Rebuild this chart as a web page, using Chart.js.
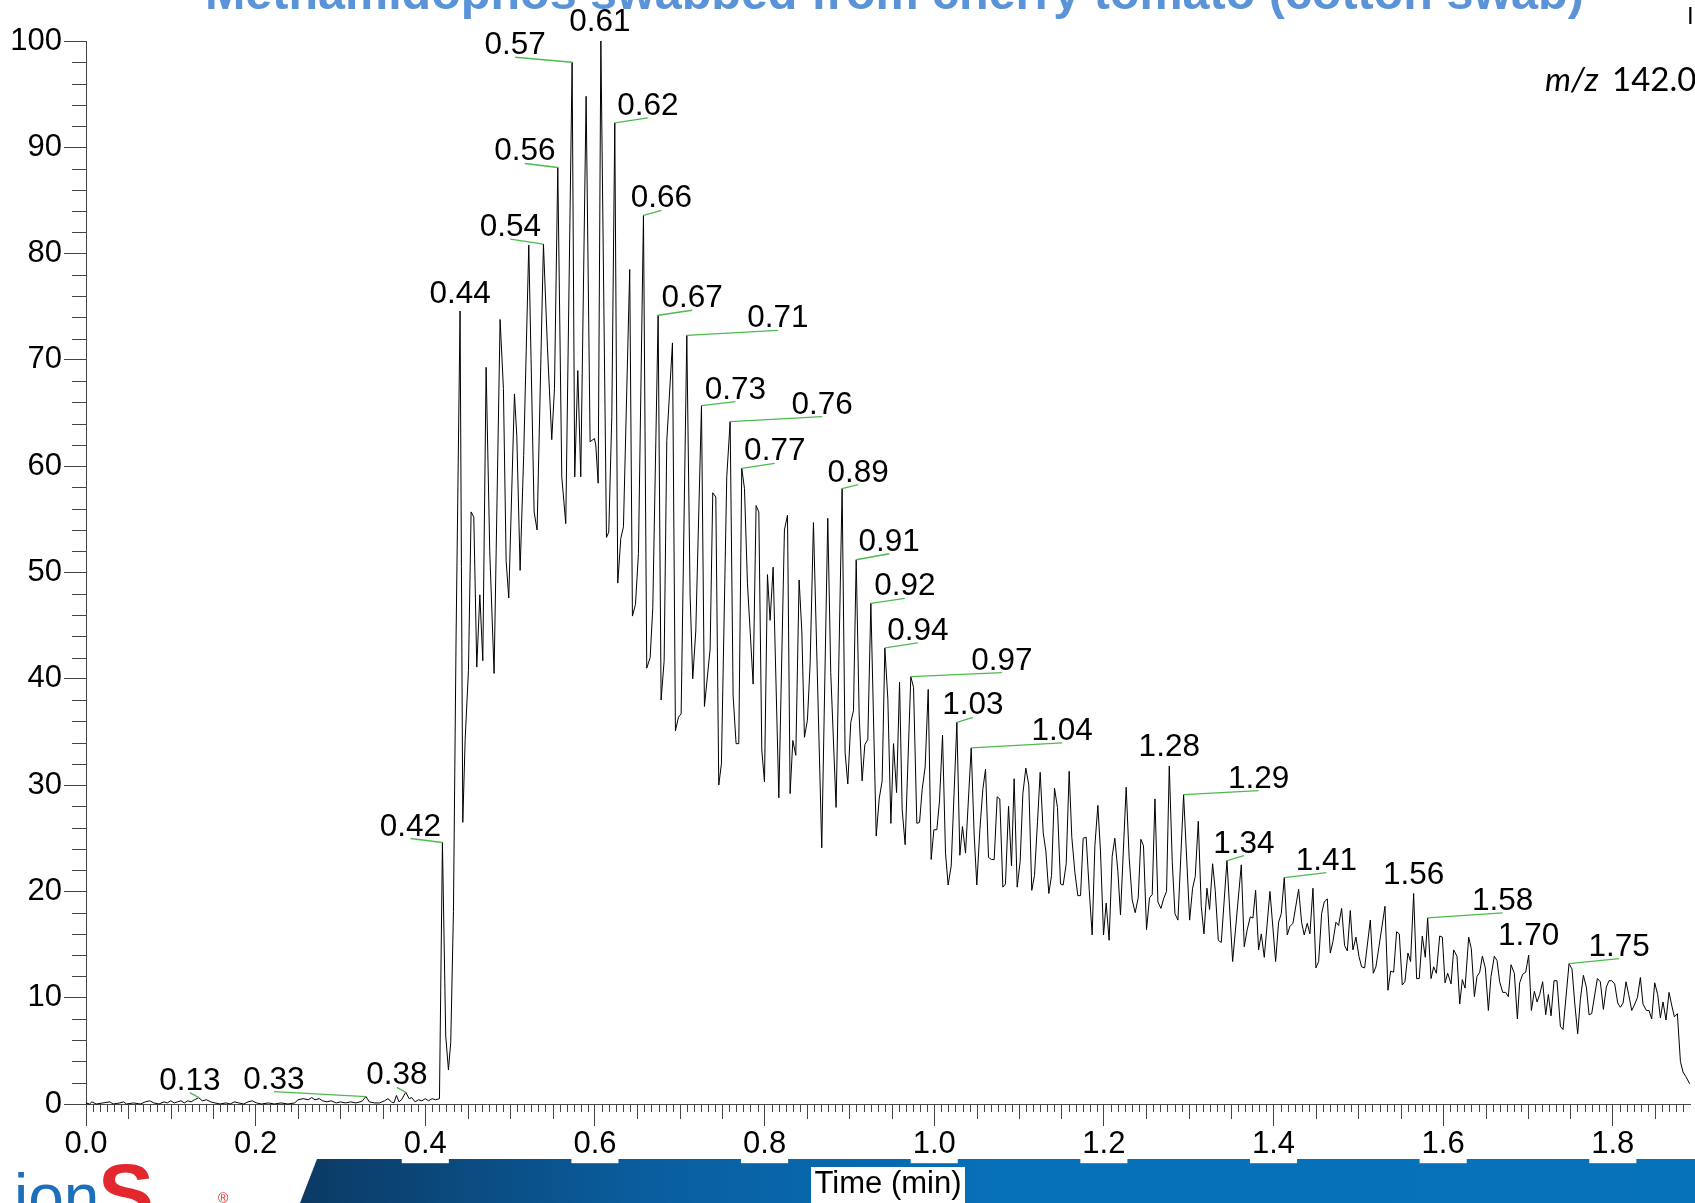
<!DOCTYPE html>
<html>
<head>
<meta charset="utf-8">
<title>Methamidophos swabbed from cherry tomato (cotton swab)</title>
<script src="https://cdn.jsdelivr.net/npm/chart.js@4.4.1/dist/chart.umd.min.js"></script>
<style>
  html, body { margin: 0; padding: 0; background: #fff; }
  #wrap { width: 1695px; height: 1203px; overflow: hidden; }
</style>
</head>
<body>
<div id="wrap"><canvas id="tic" width="1695" height="1203"></canvas></div>
<script>
// Retention time (min) of each scan
const scanTimes = [
  0.000, 0.004, 0.007, 0.012, 0.020, 0.028, 0.032, 0.040, 0.044, 0.048,
  0.056, 0.064, 0.070, 0.075, 0.080, 0.086, 0.092, 0.096, 0.100, 0.104,
  0.108, 0.112, 0.116, 0.120, 0.124, 0.128, 0.133, 0.137, 0.142, 0.147,
  0.152, 0.158, 0.165, 0.170, 0.175, 0.180, 0.186, 0.191, 0.196, 0.201,
  0.207, 0.215, 0.222, 0.230, 0.238, 0.246, 0.250, 0.256, 0.262, 0.266,
  0.270, 0.275, 0.279, 0.284, 0.289, 0.295, 0.300, 0.306, 0.312, 0.318,
  0.323, 0.326, 0.330, 0.334, 0.340, 0.346, 0.352, 0.356, 0.360, 0.363,
  0.366, 0.369, 0.372, 0.377, 0.381, 0.384, 0.388, 0.392, 0.396, 0.400,
  0.404, 0.408, 0.412, 0.4167,
  0.4202, 0.4241, 0.4273, 0.4300, 0.4332, 0.4363, 0.4410, 0.4442, 0.4470, 0.4509,
  0.4540, 0.4572, 0.4607, 0.4643, 0.4678, 0.4717, 0.4760, 0.4811, 0.4882, 0.4921,
  0.4953, 0.4984, 0.5051, 0.5079, 0.5118, 0.5160, 0.5220, 0.5283, 0.5318, 0.5393,
  0.5440, 0.5491, 0.5523, 0.5562, 0.5609, 0.5656, 0.5731, 0.5762, 0.5798, 0.5833,
  0.5896, 0.5943, 0.5994, 0.6010, 0.6038, 0.6070, 0.6136, 0.6163, 0.6199, 0.6234,
  0.6269, 0.6305, 0.6336, 0.6410, 0.6442, 0.6478, 0.6513, 0.6572, 0.6611, 0.6651,
  0.6682, 0.6745, 0.6780, 0.6816, 0.6847, 0.6914, 0.6949, 0.6985, 0.7016, 0.7083,
  0.7122, 0.7153, 0.7189, 0.7256, 0.7291, 0.7358, 0.7389, 0.7425, 0.7460, 0.7491,
  0.7554, 0.7594, 0.7629, 0.7664, 0.7696, 0.7731, 0.7763, 0.7798, 0.7865, 0.7900,
  0.7932, 0.7967, 0.7999, 0.8034, 0.8065, 0.8101, 0.8168, 0.8234, 0.8270, 0.8301,
  0.8333, 0.8368, 0.8407, 0.8439, 0.8470, 0.8505, 0.8537, 0.8576, 0.8674, 0.8745,
  0.8780, 0.8843, 0.8914, 0.8949, 0.8981, 0.9016, 0.9048, 0.9080, 0.9115, 0.9150,
  0.9182, 0.9217, 0.9253, 0.9316, 0.9351, 0.9386, 0.9418, 0.9453, 0.9489, 0.9520,
  0.9556, 0.9591, 0.9622, 0.9657, 0.9724, 0.9756, 0.9795, 0.9827, 0.9858, 0.9893,
  0.9929, 0.9964, 0.9996, 1.0031, 1.0062, 1.0098, 1.0133, 1.0164, 1.0200, 1.0267,
  1.0302, 1.0333, 1.0369, 1.0436, 1.0471, 1.0502, 1.0538, 1.0573, 1.0605, 1.0640,
  1.0675, 1.0707, 1.0742, 1.0773, 1.0809, 1.0840, 1.0876, 1.0911, 1.0942, 1.0978,
  1.1013, 1.1045, 1.1080, 1.1115, 1.1150, 1.1182, 1.1218, 1.1249, 1.1285, 1.1316,
  1.1351, 1.1383, 1.1418, 1.1453, 1.1489, 1.1520, 1.1556, 1.1591, 1.1622, 1.1658,
  1.1693, 1.1725, 1.1756, 1.1791, 1.1827, 1.1862, 1.1894, 1.1929, 1.1960, 1.1996,
  1.2027, 1.2062, 1.2098, 1.2129, 1.2165, 1.2196, 1.2263, 1.2298, 1.2334, 1.2369,
  1.2405, 1.2436, 1.2467, 1.2503, 1.2538, 1.2570, 1.2602, 1.2637, 1.2673, 1.2704,
  1.2739, 1.2771, 1.2806, 1.2838, 1.2873, 1.2940, 1.3011, 1.3046, 1.3077, 1.3113,
  1.3148, 1.3180, 1.3215, 1.3246, 1.3282, 1.3313, 1.3349, 1.3384, 1.3451, 1.3518,
  1.3620, 1.3655, 1.3690, 1.3726, 1.3757, 1.3789, 1.3824, 1.3856, 1.3891, 1.3958,
  1.4025, 1.4060, 1.4091, 1.4127, 1.4162, 1.4193, 1.4229, 1.4296, 1.4331, 1.4362,
  1.4398, 1.4429, 1.4465, 1.4500, 1.4532, 1.4567, 1.4598, 1.4634, 1.4669, 1.4701,
  1.4736, 1.4767, 1.4803, 1.4838, 1.4870, 1.4905, 1.4936, 1.4972, 1.5007, 1.5039,
  1.5074, 1.5141, 1.5176, 1.5207, 1.5243, 1.5314, 1.5349, 1.5381, 1.5416, 1.5451,
  1.5483, 1.5518, 1.5549, 1.5585, 1.5616, 1.5652, 1.5687, 1.5718, 1.5754, 1.5789,
  1.5817, 1.5857, 1.5888, 1.5920, 1.5959, 1.5990, 1.6022, 1.6053, 1.6093, 1.6124,
  1.6163, 1.6195, 1.6226, 1.6258, 1.6301, 1.6332, 1.6368, 1.6399, 1.6431, 1.6462,
  1.6497, 1.6533, 1.6564, 1.6603, 1.6635, 1.6666, 1.6702, 1.6737, 1.6768, 1.6800,
  1.6839, 1.6875, 1.6902, 1.6937, 1.6973, 1.7008, 1.7040, 1.7075, 1.7107, 1.7138,
  1.7173, 1.7209, 1.7240, 1.7272, 1.7307, 1.7342, 1.7382, 1.7413, 1.7484, 1.7519,
  1.7551, 1.7586, 1.7617, 1.7653, 1.7688, 1.7720, 1.7751, 1.7818, 1.7853, 1.7889,
  1.7924, 1.7955, 1.7987, 1.8022, 1.8058, 1.8089, 1.8121, 1.8156, 1.8187, 1.8223,
  1.8254, 1.8290, 1.8325, 1.8356, 1.8396, 1.8427, 1.8458, 1.8494, 1.8529, 1.8561,
  1.8592, 1.8627, 1.8663, 1.8694, 1.8726, 1.8761, 1.8797, 1.8828, 1.8859, 1.8907
];

// Relative abundance (%) at each scan, same order as scanTimes
const intensities = [
  0.1, 0.0, 0.2, 0.0, 0.1, 0.2, 0.0, 0.1, 0.2, 0.0,
  0.1, 0.0, 0.2, 0.3, 0.1, 0.0, 0.2, 0.1, 0.3, 0.1,
  0.2, 0.3, 0.1, 0.3, 0.2, 0.4, 0.6, 0.3, 0.4, 0.2,
  0.1, 0.0, 0.1, 0.0, 0.2, 0.1, 0.0, 0.2, 0.3, 0.1,
  0.0, 0.1, 0.0, 0.1, 0.0, 0.1, 0.4, 0.5, 0.4, 0.6,
  0.4, 0.5, 0.3, 0.2, 0.3, 0.1, 0.2, 0.1, 0.2, 0.1,
  0.2, 0.3, 0.7, 0.2, 0.1, 0.1, 0.3, 0.5, 0.2, 0.1,
  0.8, 0.2, 0.4, 1.1, 0.5, 0.6, 0.2, 0.4, 0.3, 0.5,
  0.3, 0.5, 0.4, 0.5,
  24.6, 6.4, 3.2, 5.8, 18.1, 44.0, 74.6, 26.5, 34.3, 40.8,
  55.7, 55.2, 41.1, 47.9, 41.7, 69.3, 52.0, 40.5, 73.8, 67.3,
  51.1, 47.6, 66.8, 62.8, 50.2, 61.0, 80.8, 55.7, 54.0, 80.9,
  71.2, 62.5, 67.3, 88.1, 59.0, 54.6, 98.0, 59.0, 69.0, 59.0,
  94.8, 62.3, 62.6, 62.0, 58.4, 100.0, 53.3, 53.8, 64.7, 92.3,
  49.0, 53.2, 54.3, 78.5, 45.9, 47.0, 51.8, 83.6, 41.0, 42.0,
  46.7, 74.2, 38.0, 41.7, 62.4, 71.6, 35.1, 36.4, 36.7, 72.3,
  47.9, 40.0, 44.5, 65.7, 37.4, 42.8, 57.5, 57.1, 30.0, 32.0,
  59.0, 64.2, 38.4, 33.9, 33.9, 59.8, 57.9, 49.0, 39.5, 56.3,
  55.7, 33.3, 30.3, 49.8, 45.5, 50.5, 28.8, 54.0, 55.4, 29.2,
  34.2, 32.8, 49.3, 44.5, 34.5, 36.1, 41.4, 54.7, 24.1, 55.1,
  40.6, 27.9, 57.9, 33.1, 30.1, 35.9, 37.0, 51.2, 36.6, 30.4,
  33.8, 34.3, 47.1, 25.2, 28.7, 30.4, 42.9, 38.1, 26.4, 33.9,
  29.3, 39.7, 27.7, 24.4, 40.2, 39.2, 26.4, 26.5, 29.6, 31.7,
  39.0, 23.0, 25.8, 25.8, 28.5, 34.7, 23.6, 20.6, 22.4, 35.9,
  23.4, 26.1, 23.6, 33.5, 25.3, 20.6, 25.8, 29.6, 31.5, 23.2,
  23.0, 23.0, 28.9, 28.7, 20.4, 20.7, 28.0, 22.4, 30.6, 20.4,
  22.8, 29.2, 31.6, 30.0, 20.1, 21.5, 26.6, 31.2, 25.5, 23.8,
  19.8, 21.5, 29.7, 27.9, 20.7, 20.6, 22.6, 31.3, 25.1, 21.8,
  19.6, 19.6, 25.0, 25.1, 20.2, 15.9, 24.3, 28.1, 23.8, 15.9,
  18.9, 15.4, 23.3, 25.0, 21.9, 17.8, 29.8, 23.2, 19.2, 18.0,
  19.4, 24.9, 24.3, 16.4, 19.4, 19.7, 28.7, 19.0, 18.4, 19.3,
  20.0, 31.8, 22.8, 17.9, 17.3, 29.1, 17.3, 20.3, 21.4, 26.6,
  18.6, 16.0, 20.3, 18.3, 22.6, 20.1, 15.4, 15.2, 22.9, 13.4,
  22.5, 14.8, 16.4, 17.6, 17.5, 20.1, 14.5, 16.0, 13.8, 20.0,
  13.4, 17.1, 17.9, 21.3, 15.9, 16.7, 17.0, 20.2, 17.1, 15.9,
  17.0, 16.0, 20.3, 12.8, 13.4, 17.9, 19.0, 19.3, 14.2, 15.3,
  17.1, 16.8, 18.4, 14.9, 14.4, 18.2, 14.5, 15.7, 13.9, 12.9,
  12.8, 17.3, 12.3, 12.9, 14.8, 18.6, 10.7, 12.5, 12.4, 16.2,
  16.0, 11.2, 11.5, 14.2, 13.4, 19.8, 11.8, 11.8, 15.8, 13.8,
  17.5, 11.8, 12.9, 12.3, 15.8, 15.7, 11.4, 12.3, 11.3, 14.5,
  13.9, 9.4, 11.7, 10.9, 15.7, 14.6, 10.1, 12.0, 12.4, 13.9,
  12.8, 8.8, 12.0, 13.9, 13.5, 11.5, 10.5, 10.5, 10.1, 13.1,
  12.3, 8.0, 11.4, 12.2, 12.4, 14.0, 8.8, 10.6, 9.6, 10.3,
  11.5, 8.4, 10.3, 8.3, 11.6, 11.6, 7.3, 7.0, 13.2, 12.7,
  9.5, 6.6, 9.8, 12.1, 11.0, 8.4, 8.5, 11.8, 11.5, 8.9,
  11.0, 11.6, 11.6, 11.3, 9.5, 9.1, 9.5, 11.5, 10.3, 8.8,
  9.3, 10.0, 11.9, 9.4, 8.8, 8.8, 8.0, 11.4, 10.3, 8.1,
  9.6, 7.9, 10.5, 9.3, 8.2, 8.5, 4.0, 3.0, 2.6, 1.9
];

// Annotated peak retention times
const peakLabels = [
  '0.13', '0.33', '0.38', '0.42', '0.44', '0.54', '0.56', '0.57', '0.61', '0.62',
  '0.66', '0.67', '0.71', '0.73', '0.76', '0.77', '0.89', '0.91', '0.92', '0.94',
  '0.97', '1.03', '1.04', '1.28', '1.29', '1.34', '1.41', '1.56', '1.58', '1.70',
  '1.75'
];

// where each label sits relative to its apex (px), layout only
const labelOffsets = [
  [-9, -5], [-92, -5], [-9, -5], [-32, -4], [0, -5], [-33, -5], [-33, -4], [-57, -5], [-1, -7], [33, -5],
  [18, -5], [34, -5], [91, -5], [34, -4], [92, -5], [33, -5], [16, -4], [33, -6], [34, -5], [33, -5],
  [91, -4], [16, -5], [91, -5], [0, -7], [75, -4], [17, -5], [42, -5], [0, -7], [75, -5], [0, -7],
  [50, -5]
];

const FONT = "'Liberation Sans', Arial, sans-serif";

// slide furniture behind the chart: title strip, banner, logo, m/z tag
const slideBackground = {
  id: 'slideBackground',
  beforeDraw(chart) {
    const ctx = chart.ctx;
    const W = chart.width, H = chart.height;
    ctx.save();
    ctx.fillStyle = '#fff';
    ctx.fillRect(0, 0, W, H);

    // blue footer banner
    const g = ctx.createLinearGradient(300, 0, W, 0);
    g.addColorStop(0, '#0c3a64');
    g.addColorStop(0.25, '#0a5e9f');
    g.addColorStop(0.5, '#0670b8');
    g.addColorStop(1, '#0672ba');
    ctx.fillStyle = g;
    ctx.beginPath();
    ctx.moveTo(317, 1159);
    ctx.lineTo(W, 1159);
    ctx.lineTo(W, H);
    ctx.lineTo(300, H);
    ctx.closePath();
    ctx.fill();

    // white patch behind the axis title
    ctx.fillStyle = '#fff';
    ctx.fillRect(811, 1167, 154, H - 1167);

    // logo (cut by the bottom edge)
    ctx.textBaseline = 'alphabetic';
    ctx.textAlign = 'left';
    ctx.fillStyle = '#1c6fb8';
    ctx.font = `64px ${FONT}`;
    ctx.fillText('ion', 14, 1219);
    ctx.fillStyle = '#e2282e';
    ctx.font = `bold 84px ${FONT}`;
    ctx.fillText('S', 98, 1222);
    ctx.font = `14px ${FONT}`;
    ctx.fillText('\u00ae', 218, 1203);

    // slide title, mostly above the visible area
    const title = 'Methamidophos swabbed from cherry tomato (cotton swab)';
    ctx.font = `bold 44px ${FONT}`;
    const size = 44 * 1379 / ctx.measureText(title).width;
    ctx.font = `bold ${size}px ${FONT}`;
    ctx.fillStyle = '#5a93d8';
    ctx.fillText(title, 205, 9);

    // m/z tag
    ctx.fillStyle = '#000';
    ctx.font = `italic 33px Lato, ${FONT}`;
    ctx.fillText('m/z', 1545, 91);
    ctx.font = `33px Lato, ${FONT}`;
    ctx.fillText('142.0', 1612, 91);
    ctx.font = `24px ${FONT}`;
    ctx.fillText('I', 1687, 24);
    ctx.restore();
  }
};

// minor tick marks plus peak annotations with green leaders
const ticksAndPeaks = {
  id: 'ticksAndPeaks',
  afterDatasetsDraw(chart) {
    const { ctx, chartArea, scales: { x, y } } = chart;
    ctx.save();
    ctx.strokeStyle = '#444';
    ctx.lineWidth = 1;
    ctx.beginPath();
    for (let k = 1; k / 120 <= x.max; k++) {
      if (k % 24 === 0) continue;
      const px = Math.round(x.getPixelForValue(k / 120)) + 0.5;
      const len = k % 6 === 0 ? 15 : 8;
      ctx.moveTo(px, chartArea.bottom);
      ctx.lineTo(px, chartArea.bottom + len);
    }
    for (let v = 2; v < 100; v += 2) {
      if (v % 10 === 0) continue;
      const py = Math.round(y.getPixelForValue(v)) + 0.5;
      ctx.moveTo(chartArea.left - 14, py);
      ctx.lineTo(chartArea.left, py);
    }
    ctx.stroke();

    ctx.font = `31.5px ${FONT}`;
    ctx.textAlign = 'center';
    ctx.textBaseline = 'alphabetic';
    peakLabels.forEach((label, i) => {
      const t = parseFloat(label);
      let best = -1;
      for (let j = 0; j < scanTimes.length; j++) {
        if (Math.abs(scanTimes[j] - t) <= 0.006 && (best < 0 || intensities[j] > intensities[best])) best = j;
      }
      if (best < 0) return;
      const ax = x.getPixelForValue(scanTimes[best]);
      const ay = y.getPixelForValue(intensities[best]);
      const [dx, dy] = labelOffsets[i];
      const ex = ax + dx, ey = ay + dy;
      if (Math.abs(dx) > 3) {
        ctx.strokeStyle = '#4cbb4c';
        ctx.lineWidth = 1.3;
        ctx.beginPath();
        ctx.moveTo(ax, ay);
        ctx.lineTo(ex, ey);
        ctx.stroke();
      }
      ctx.fillStyle = '#000';
      ctx.fillText(label, ex, ey - 3);
    });
    ctx.restore();
  }
};

new Chart(document.getElementById('tic'), {
  type: 'line',
  data: {
    datasets: [{
      label: 'm/z 142.0',
      data: scanTimes.map((t, i) => ({ x: t, y: intensities[i] })),
      borderColor: '#000',
      borderWidth: 1,
      pointRadius: 0,
      tension: 0,
      fill: false,
      clip: false
    }]
  },
  options: {
    responsive: false,
    animation: false,
    devicePixelRatio: 1,
    layout: { padding: { top: 41, right: 5, bottom: 0, left: 0 } },
    plugins: {
      legend: { display: false },
      tooltip: { enabled: false }
    },
    scales: {
      x: {
        type: 'linear',
        min: 0,
        max: 1.891,
        border: { display: true, color: '#444', width: 1 },
        grid: { drawOnChartArea: false, tickLength: 22, tickColor: '#444', color: '#444' },
        ticks: {
          stepSize: 0.2,
          includeBounds: false,
          autoSkip: false,
          maxRotation: 0,
          padding: 0,
          color: '#000',
          font: { family: FONT, size: 31 },
          callback: v => v.toFixed(1),
          showLabelBackdrop: true,
          backdropColor: '#fff',
          backdropPadding: { left: 2, right: 2, top: 0, bottom: 0 }
        },
        title: {
          display: true,
          text: 'Time (min)',
          color: '#000',
          font: { family: FONT, size: 31 },
          padding: 0
        },
        afterFit: s => { s.height = 99; }
      },
      y: {
        min: 0,
        max: 100,
        border: { display: true, color: '#444', width: 1 },
        grid: { drawOnChartArea: false, tickLength: 22, tickColor: '#444', color: '#444' },
        ticks: {
          stepSize: 10,
          padding: 2,
          color: '#000',
          font: { family: FONT, size: 31 }
        },
        afterFit: s => { s.width = 86; }
      }
    }
  },
  plugins: [slideBackground, ticksAndPeaks]
});
</script>
</body>
</html>
